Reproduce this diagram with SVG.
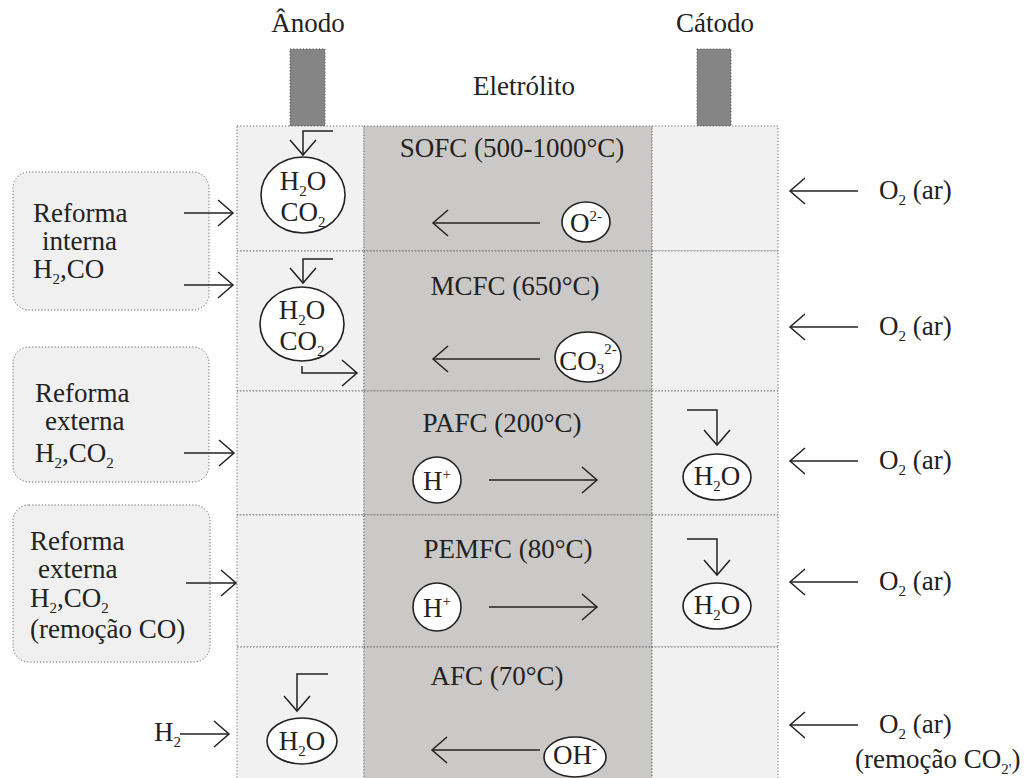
<svg xmlns="http://www.w3.org/2000/svg" width="1029" height="778" viewBox="0 0 1029 778">
<defs>
<style>
text{font-family:"Liberation Serif","Times New Roman",serif;font-size:27px;fill:#222}
.c{text-anchor:middle}
.sub{font-size:15px}
.sup{font-size:15px}
.cell{stroke:#666;stroke-width:1;stroke-dasharray:1.2 2}
.an{fill:#f0f1f0}
.el{fill:#cbc9c7}
.term{fill:#858585;stroke:#555;stroke-width:1;stroke-dasharray:1.2 2}
.box{fill:#eff0ef;stroke:#666;stroke-width:1;stroke-dasharray:1.2 2}
.ion{fill:#fff;stroke:#222;stroke-width:1.6}
.arr{fill:none;stroke:#222;stroke-width:1.5;marker-end:url(#ah)}
</style>
<marker id="ah" viewBox="-17 -15 19 30" refX="0" refY="0" markerWidth="19" markerHeight="30" markerUnits="userSpaceOnUse" orient="auto">
<path d="M-15,-13 L0,0 L-15,13" fill="none" stroke="#222" stroke-width="1.5"/>
</marker>
</defs>
<rect width="1029" height="778" fill="#fff"/>

<g id="titles">
<text x="308" y="32" class="c">Ânodo</text>
<text x="715" y="32" class="c">Cátodo</text>
<text x="524" y="95" class="c">Eletrólito</text>
</g>

<g id="terminals">
<rect class="term" x="290" y="49" width="35" height="77"/>
<rect class="term" x="697" y="49" width="34" height="77"/>
</g>

<g id="cells">
<rect class="cell an" x="237" y="126" width="127" height="125"/>
<rect class="cell an" x="237" y="251" width="127" height="140"/>
<rect class="cell an" x="237" y="391" width="127" height="124"/>
<rect class="cell an" x="237" y="515" width="127" height="132"/>
<rect class="cell an" x="237" y="647" width="127" height="140"/>
<rect class="cell el" x="364" y="126" width="288" height="125"/>
<rect class="cell el" x="364" y="251" width="288" height="140"/>
<rect class="cell el" x="364" y="391" width="288" height="124"/>
<rect class="cell el" x="364" y="515" width="288" height="132"/>
<rect class="cell el" x="364" y="647" width="288" height="140"/>
<rect class="cell an" x="652" y="126" width="126" height="125"/>
<rect class="cell an" x="652" y="251" width="126" height="140"/>
<rect class="cell an" x="652" y="391" width="126" height="124"/>
<rect class="cell an" x="652" y="515" width="126" height="132"/>
<rect class="cell an" x="652" y="647" width="126" height="140"/>
</g>

<g id="labels">
<text x="512" y="157" class="c">SOFC (500-1000°C)</text>
<text x="515" y="295" class="c">MCFC (650°C)</text>
<text x="502" y="432" class="c">PAFC (200°C)</text>
<text x="508" y="558" class="c">PEMFC (80°C)</text>
<text x="497" y="685" class="c">AFC (70°C)</text>
</g>

<g id="box-interna">
<rect class="box" x="13" y="172" width="196" height="138" rx="16"/>
<text x="33" y="222">Reforma</text>
<text x="42" y="250">interna</text>
<text x="33" y="278">H<tspan class="sub" dy="6">2</tspan><tspan dy="-6">,CO</tspan></text>
</g>
<g id="box-externa">
<rect class="box" x="13" y="347" width="196" height="135" rx="16"/>
<text x="35" y="402">Reforma</text>
<text x="45" y="430">externa</text>
<text x="35" y="462">H<tspan class="sub" dy="6">2</tspan><tspan dy="-6">,CO</tspan><tspan class="sub" dy="6">2</tspan></text>
</g>
<g id="box-externa-co">
<rect class="box" x="13" y="505" width="197" height="157" rx="16"/>
<text x="30" y="550">Reforma</text>
<text x="38" y="578">externa</text>
<text x="30" y="607">H<tspan class="sub" dy="6">2</tspan><tspan dy="-6">,CO</tspan><tspan class="sub" dy="6">2</tspan></text>
<text x="30" y="638">(remoção CO)</text>
</g>

<g id="anode-sofc">
<ellipse class="ion" cx="303" cy="195" rx="42" ry="38"/>
<text x="303" y="190" class="c">H<tspan class="sub" dy="6">2</tspan><tspan dy="-6">O</tspan></text>
<text x="303" y="221" class="c">CO<tspan class="sub" dy="6">2</tspan></text>
</g>
<g id="anode-mcfc">
<ellipse class="ion" cx="302" cy="324" rx="42" ry="37"/>
<text x="302" y="319" class="c">H<tspan class="sub" dy="6">2</tspan><tspan dy="-6">O</tspan></text>
<text x="302" y="350" class="c">CO<tspan class="sub" dy="6">2</tspan></text>
</g>
<g id="anode-afc">
<ellipse class="ion" cx="302" cy="741" rx="35" ry="23"/>
<text x="302" y="750" class="c">H<tspan class="sub" dy="6">2</tspan><tspan dy="-6">O</tspan></text>
</g>
<g id="h2-afc">
<text x="154" y="741">H<tspan class="sub" dy="6">2</tspan></text>
</g>

<g id="ion-o2">
<ellipse class="ion" cx="586" cy="222" rx="24" ry="20"/>
<text x="586" y="232" class="c">O<tspan class="sup" dy="-11">2-</tspan></text>
</g>
<g id="ion-co3">
<ellipse class="ion" cx="588" cy="357" rx="33" ry="25"/>
<text x="588" y="370" class="c">CO<tspan class="sub" dy="4">3</tspan><tspan class="sup" dy="-20">2-</tspan></text>
</g>
<g id="ion-h-pafc">
<ellipse class="ion" cx="437" cy="480" rx="24" ry="23"/>
<text x="437" y="490" class="c">H<tspan class="sup" dy="-11">+</tspan></text>
</g>
<g id="ion-h-pemfc">
<ellipse class="ion" cx="437" cy="607" rx="24" ry="24"/>
<text x="437" y="617" class="c">H<tspan class="sup" dy="-11">+</tspan></text>
</g>
<g id="ion-oh">
<ellipse class="ion" cx="575" cy="757" rx="31" ry="20"/>
<text x="575" y="764" class="c">OH<tspan class="sup" dy="-11">-</tspan></text>
</g>

<g id="cathode-pafc">
<ellipse class="ion" cx="717" cy="477" rx="34" ry="23"/>
<text x="717" y="485" class="c">H<tspan class="sub" dy="6">2</tspan><tspan dy="-6">O</tspan></text>
</g>
<g id="cathode-pemfc">
<ellipse class="ion" cx="717" cy="606" rx="34" ry="23"/>
<text x="717" y="614" class="c">H<tspan class="sub" dy="6">2</tspan><tspan dy="-6">O</tspan></text>
</g>

<g id="o2-inputs">
<text x="879" y="199">O<tspan class="sub" dy="6">2</tspan><tspan dy="-6"> (ar)</tspan></text>
<text x="879" y="335">O<tspan class="sub" dy="6">2</tspan><tspan dy="-6"> (ar)</tspan></text>
<text x="879" y="469">O<tspan class="sub" dy="6">2</tspan><tspan dy="-6"> (ar)</tspan></text>
<text x="879" y="590">O<tspan class="sub" dy="6">2</tspan><tspan dy="-6"> (ar)</tspan></text>
<text x="879" y="733">O<tspan class="sub" dy="6">2</tspan><tspan dy="-6"> (ar)</tspan></text>
<text x="855" y="768">(remoção CO<tspan class="sub" dy="6">2'</tspan><tspan dy="-6">)</tspan></text>
</g>

<g id="connectors">
<path class="arr" d="M333,131 H303 V155"/>
<path class="arr" d="M333,259 H303 V283"/>
<path class="arr" d="M302,366 V373 H357"/>
<path class="arr" d="M328,674 H297 V711"/>
<path class="arr" d="M687,410 H717 V445"/>
<path class="arr" d="M687,539 H717 V575"/>
<path class="arr" d="M540,223 H433"/>
<path class="arr" d="M540,359 H433"/>
<path class="arr" d="M489,480 H597"/>
<path class="arr" d="M489,607 H597"/>
<path class="arr" d="M540,750 H432"/>
<path class="arr" d="M184,213 H233"/>
<path class="arr" d="M184,285 H233"/>
<path class="arr" d="M184,453 H234"/>
<path class="arr" d="M186,583 H236"/>
<path class="arr" d="M180,734 H229"/>
<path class="arr" d="M858,191 H790"/>
<path class="arr" d="M858,327 H790"/>
<path class="arr" d="M858,461 H790"/>
<path class="arr" d="M858,582 H790"/>
<path class="arr" d="M858,725 H790"/>
</g>
</svg>
